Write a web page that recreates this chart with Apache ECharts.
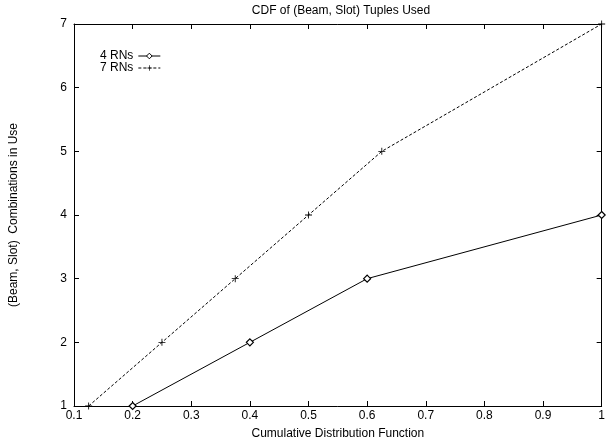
<!DOCTYPE html>
<html><head><meta charset="utf-8">
<script src="https://cdn.jsdelivr.net/npm/echarts@6/dist/echarts.min.js"></script>
<style>html,body{margin:0;padding:0;background:#fff}#c{width:608px;height:445px}</style>
</head><body><div id="c"></div>
<script>
const seriesNames = ['4 RNs', '7 RNs'];
const rn4X = [0.2, 0.4, 0.6, 1.0];
const rn4Y = [1, 2, 3, 4];
const rn7X = [0.125, 0.25, 0.375, 0.5, 0.625, 1.0];
const rn7Y = [1, 2, 3, 4, 5, 7];
const xTicks = [0.1, 0.2, 0.3, 0.4, 0.5, 0.6, 0.7, 0.8, 0.9, 1];
const yTicks = [1, 2, 3, 4, 5, 6, 7];

const FONT = 'Liberation Sans';
const FS = 12;
const chart = echarts.init(document.getElementById('c'), null, {renderer: 'canvas'});
const pts = (xs, ys) => xs.map((x, i) => [x, ys[i]]);
const axisCommon = {
  axisLine: {show: true, onZero: false, lineStyle: {color: '#000', width: 1}},
  axisTick: {show: true, inside: true, length: 5, lineStyle: {color: '#000'}},
  splitLine: {show: false}
};
chart.setOption({
  animation: false,
  backgroundColor: '#fff',
  title: {
    text: 'CDF of (Beam, Slot) Tuples Used', left: 341, top: 5, textAlign: 'center', padding: 0,
    textStyle: {fontFamily: FONT, fontSize: FS, fontWeight: 'normal', color: '#000'}
  },
  legend: {
    orient: 'vertical', left: 100, top: 50, align: 'right', itemGap: 0,
    itemWidth: 22, itemHeight: 7, padding: 0,
    lineStyle: {width: 1},
    itemStyle: {borderWidth: 1},
    textStyle: {fontFamily: FONT, fontSize: FS, color: '#000', lineHeight: 12},
    data: seriesNames
  },
  grid: {left: 73, right: 4, top: 24, bottom: 33, containLabel: false},
  xAxis: [
    Object.assign({}, axisCommon, {
      type: 'value', min: 0.1, max: 1, interval: 0.1, position: 'bottom',
      axisLabel: {fontFamily: FONT, fontSize: FS, color: '#000', margin: 4,
        formatter: v => String(+v.toFixed(1))},
      name: 'Cumulative Distribution Function', nameLocation: 'middle', nameGap: 22,
      nameTextStyle: {fontFamily: FONT, fontSize: FS, color: '#000'}
    }),
    Object.assign({}, axisCommon, {
      type: 'value', min: 0.1, max: 1, interval: 0.1, position: 'top',
      axisLabel: {show: false}
    })
  ],
  yAxis: [
    Object.assign({}, axisCommon, {
      type: 'value', min: 1, max: 7, interval: 1, position: 'left',
      axisLabel: {fontFamily: FONT, fontSize: FS, color: '#000', margin: 7,
        formatter: v => String(v)},
      name: '(Beam, Slot)  Combinations in Use', nameLocation: 'middle', nameGap: 54,
      nameTextStyle: {fontFamily: FONT, fontSize: FS, color: '#000'}
    }),
    Object.assign({}, axisCommon, {
      type: 'value', min: 1, max: 7, interval: 1, position: 'right',
      axisLabel: {show: false}
    })
  ],
  series: [
    {
      name: seriesNames[0], type: 'line', data: pts(rn4X, rn4Y),
      symbol: 'diamond', symbolSize: 7, showSymbol: true,
      lineStyle: {color: '#000', width: 1},
      itemStyle: {color: '#fff', borderColor: '#000', borderWidth: 1.2},
      color: '#000'
    },
    {
      name: seriesNames[1], type: 'line', data: pts(rn7X, rn7Y),
      symbol: 'path://M4.4,0H5.6V10H4.4ZM0,4.4H10V5.6H0Z', symbolSize: 7, showSymbol: true,
      lineStyle: {color: '#000', width: 1, type: [3, 2]},
      itemStyle: {color: '#000'},
      color: '#000'
    }
  ]
});
</script></body></html>
